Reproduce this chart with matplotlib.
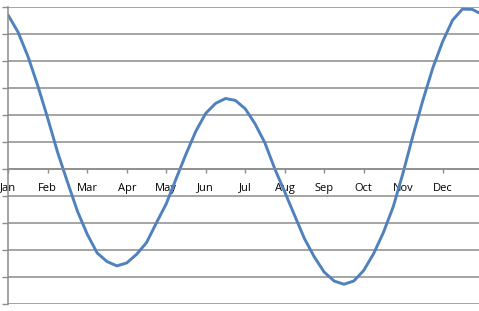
import matplotlib.pyplot as plt

# month labels on the x axis (category positions 0..11)
months = ['Jan', 'Feb', 'Mar', 'Apr', 'May', 'Jun',
          'Jul', 'Aug', 'Sep', 'Oct', 'Nov', 'Dec']

x_pos = [i / 4 for i in range(48)] + [11.92]
values = [5.68, 5.05, 4.15, 3.06, 1.86, 0.60, -0.50, -1.57,
          -2.43, -3.12, -3.44, -3.60, -3.49, -3.17, -2.74, -2.01,
          -1.30, -0.37, 0.54, 1.39, 2.05, 2.42, 2.60, 2.53,
          2.22, 1.66, 0.95, -0.01, -0.86, -1.73, -2.59, -3.27,
          -3.83, -4.16, -4.28, -4.16, -3.77, -3.15, -2.36, -1.40,
          -0.14, 1.24, 2.54, 3.73, 4.71, 5.50, 5.91, 5.90, 5.77]

grid_color = '#8c8c8c'

fig = plt.figure(figsize=(4.79, 3.11), dpi=100)
ax = fig.add_axes([0.0173, 0.0235, 0.9827, 0.955])

ax.set_xlim(0, 11.92)
ax.set_ylim(-5, 6)

# horizontal gridlines every unit
ax.set_yticks(range(-5, 7))
ax.set_yticklabels([])
ax.yaxis.grid(True, color=grid_color, linewidth=1.1)
ax.set_axisbelow(True)

ax.plot(x_pos, values, color='#4F81BD', linewidth=2.1,
        solid_capstyle='round', solid_joinstyle='round')

# x axis sits on zero
ax.spines['bottom'].set_position(('data', 0))
ax.spines['top'].set_visible(False)
ax.spines['right'].set_visible(False)
for s in ('bottom', 'left'):
    ax.spines[s].set_color(grid_color)
    ax.spines[s].set_linewidth(1.1)

ax.set_xticks(range(12))
ax.set_xticklabels(months, fontsize=8, family='Open Sans')
ax.tick_params(axis='x', direction='out', length=3, width=1, color=grid_color, pad=7)
ax.tick_params(axis='y', direction='out', length=4.5, width=1, color=grid_color)

fig.savefig('out.png', dpi=100)
